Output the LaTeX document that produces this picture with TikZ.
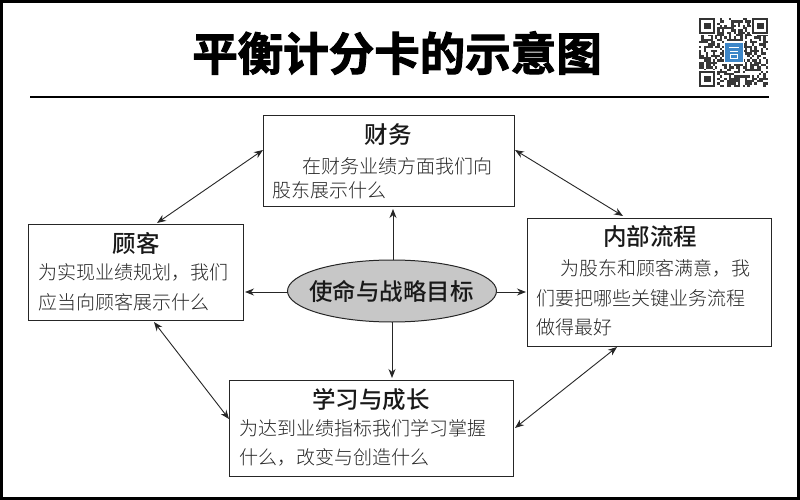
\documentclass[tikz,border=0pt]{standalone}
\usepackage{fontspec}
\usetikzlibrary{arrows.meta,shapes.geometric}
\setmainfont{Noto Sans CJK SC}
\newfontfamily\boldcjk[FakeBold=2.2]{Noto Sans CJK SC Bold}
\newfontfamily\midcjk{Noto Sans CJK SC Medium}
\newfontfamily\regcjk{Noto Sans CJK SC Light}
\definecolor{qrblue}{HTML}{3C86C8}
\tikzset{x=1pt,y=-1pt,
 box/.style={draw=black!85,line width=1pt,fill=white},
 head/.style={font=\midcjk\fontsize{23.5}{26}\selectfont,text=black!90,inner sep=0pt},
 body/.style={font=\regcjk\fontsize{19}{22}\selectfont,text=black!85,inner sep=0pt,anchor=west},
 link/.style={draw=black!85,line width=0.9pt,{Stealth[length=9pt,width=7pt]}-{Stealth[length=9pt,width=7pt]}},
 oneway/.style={draw=black!85,line width=0.9pt,-{Stealth[length=9pt,width=7pt]}}}
\begin{document}
\begin{tikzpicture}
\useasboundingbox (0,0) rectangle (800,500);
\fill[white] (0,0) rectangle (800,500);
\draw[black,line width=3pt] (1.5,1.5) rectangle (798.5,498.5);
\node[font=\boldcjk\fontsize{45.5}{50}\selectfont,inner sep=0pt] (title) at (397,53) {平衡计分卡的示意图};
\coordinate (ruleL) at (30,97); \coordinate (ruleR) at (769,97);
\draw[black,line width=1.6pt] (ruleL) -- (ruleR);
% boxes
\node[box,minimum width=251pt,minimum height=90pt,inner sep=0pt] (fin) at (389,161) {};
\node[box,minimum width=215pt,minimum height=96pt,inner sep=0pt] (cust) at (135.5,272) {};
\node[box,minimum width=244pt,minimum height=128pt,inner sep=0pt] (proc) at (649,282) {};
\node[box,minimum width=284pt,minimum height=96pt,inner sep=0pt] (learn) at (371.5,428) {};
\node[draw=black!85,line width=1pt,fill=black!22,ellipse,minimum width=209pt,minimum height=62pt,inner sep=0pt] (core) at (392,291) {};
\node[font=\midcjk\fontsize{23.5}{26}\selectfont,inner sep=0pt,text=black!90] (coretxt) at (391.5,291) {使命与战略目标};
% texts
\node[head] (h1) at (388,135) {财务};
\node[body] (t1a) at (302,166) {在财务业绩方面我们向};
\node[body] (t1b) at (272,190) {股东展示什么};
\node[head] (h2) at (136,244) {顾客};
\node[body] (t2a) at (38,272) {为实现业绩规划，我们};
\node[body] (t2b) at (38,302) {应当向顾客展示什么};
\node[head] (h3) at (650,237) {内部流程};
\node[body] (t3a) at (560,268) {为股东和顾客满意，我};
\node[body] (t3b) at (536,298) {们要把哪些关键业务流程};
\node[body] (t3c) at (536,327) {做得最好};
\node[head] (h4) at (371,400) {学习与成长};
\node[body] (t4a) at (239,428) {为达到业绩指标我们学习掌握};
\node[body] (t4b) at (239,457) {什么，改变与创造什么};
% connectors
\coordinate (a1s) at (393,260); \coordinate (a1e) at (393,209);
\coordinate (a2s) at (287.5,292); \coordinate (a2e) at (245,292);
\coordinate (a3s) at (496.5,292); \coordinate (a3e) at (526,292);
\coordinate (a4s) at (392,322); \coordinate (a4e) at (392,378);
\coordinate (l1a) at (263,150); \coordinate (l1b) at (157,223);
\coordinate (l2a) at (515,150); \coordinate (l2b) at (623,216);
\coordinate (l3a) at (154,322); \coordinate (l3b) at (229,419);
\coordinate (l4a) at (515,428); \coordinate (l4b) at (617,347);
\draw[oneway] (a1s) -- (a1e);
\draw[oneway] (a2s) -- (a2e);
\draw[oneway] (a3s) -- (a3e);
\draw[oneway] (a4s) -- (a4e);
\draw[link] (l1a) -- (l1b);
\draw[link] (l2a) -- (l2b);
\draw[link] (l3a) -- (l3b);
\draw[link] (l4a) -- (l4b);
% QR code
\begin{scope}[shift={(699,18)}]
\pgfmathsetseed{7}
\foreach \i in {0,...,29}{\foreach \j in {0,...,29}{
  \pgfmathparse{rnd<0.5?1:0}
  \ifnum\pgfmathresult=1 \fill[black!78] (\i*2.3,\j*2.3) rectangle ++(2.3,2.3);\fi
}}
\foreach \px/\py in {0/0,53/0,0/53}{
 \begin{scope}[shift={(\px,\py)}]
 \fill[white] (-1,-1) rectangle (17.5,17.5);
 \fill[black!80] (0,0) rectangle (16.1,16.1);
 \fill[white] (2.3,2.3) rectangle (13.8,13.8);
 \fill[black!80] (4.6,4.6) rectangle (11.5,11.5);
 \end{scope}}
\fill[white] (24.5,23.5) rectangle (45,46);
\fill[qrblue] (26,25) rectangle (43.5,44.5);
\draw[white,line width=0.8pt] (30,29.5) -- (39.5,29.5) (31,33) -- (38.5,33) (31,36.5) -- (38.5,36.5) (31,36.5) -- (31,40) -- (38.5,40) -- (38.5,36.5);
\end{scope}
\end{tikzpicture}
\end{document}
